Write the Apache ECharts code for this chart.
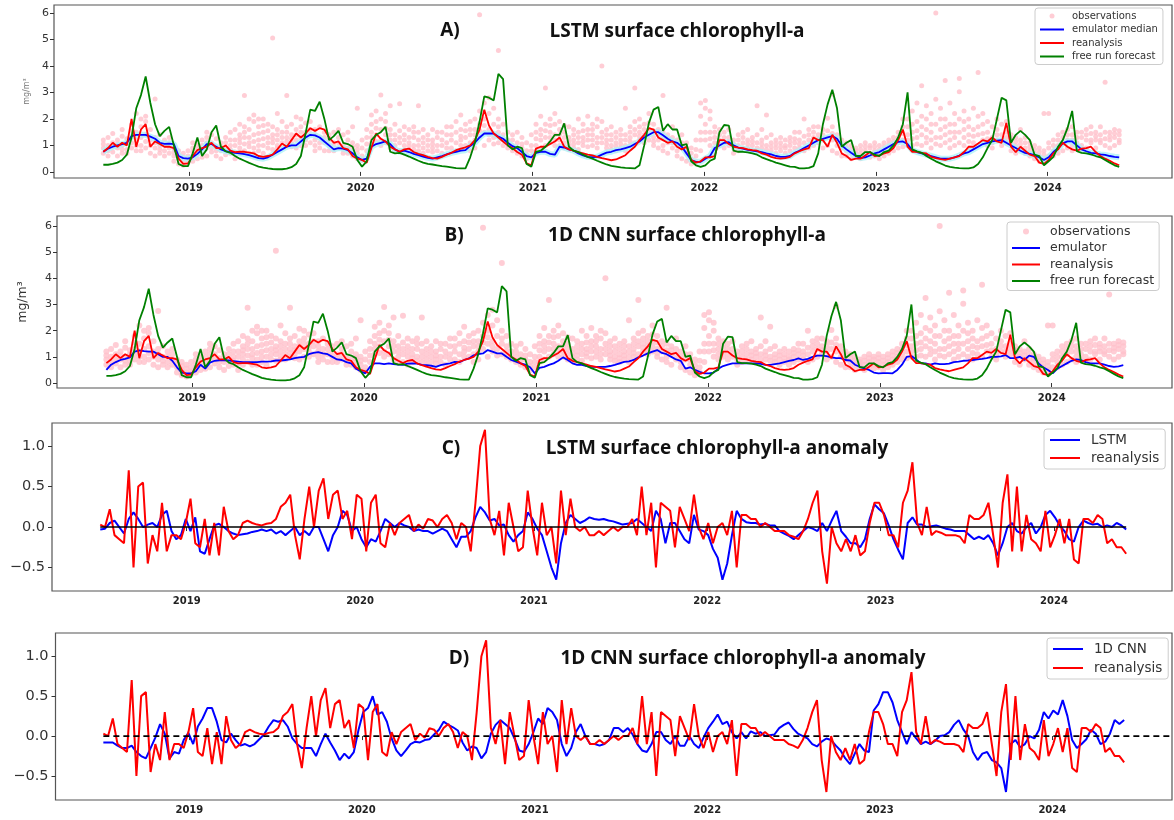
<!DOCTYPE html>
<html><head><meta charset="utf-8">
<script src="https://cdn.jsdelivr.net/npm/echarts@6/dist/echarts.min.js"></script>
<style>html,body{margin:0;padding:0;background:#fff}#c{width:1174px;height:820px}</style>
</head><body><div id="c"></div><script>
// ---- data (10-day sampling starting 2018-07-03) ----
const START_DATE = '2018-07-03';
const STEP_DAYS = 10;
const yearTicks = [2019, 2020, 2021, 2022, 2023, 2024];
const chlTicks = [0, 1, 2, 3, 4, 5, 6];
const anomTicks = [-0.5, 0, 0.5, 1.0];

const freeRun = [0.27,0.27,0.3,0.35,0.45,0.65,1.3,2.4,2.9,3.6,2.6,1.8,1.35,1.55,1.7,1.0,0.3,0.22,0.22,
0.7,1.3,0.6,0.85,1.5,1.75,0.95,0.78,0.72,
0.6,0.5,0.42,0.34,0.27,0.2,0.16,0.13,0.11,0.1,0.1,0.12,0.18,0.3,0.6,
1.45,2.35,2.3,2.65,2.0,1.2,1.35,1.55,1.1,1.05,0.95,0.45,0.2,0.4,1.2,1.4,1.5,1.7,0.76,0.7,
0.72,0.65,0.58,0.5,0.42,0.35,0.3,0.28,0.25,0.22,0.2,0.17,0.14,0.13,0.13,
0.55,1.1,1.9,2.85,2.8,2.7,3.7,3.5,1.0,0.85,0.95,0.9,0.3,0.2,
0.76,0.8,0.95,1.15,1.4,1.4,1.83,0.95,0.8,0.75,0.65,0.57,0.5,0.42,0.35,0.28,0.23,0.2,0.17,0.15,0.14,0.13,
0.25,1.0,1.85,2.35,2.45,1.55,1.8,1.6,1.6,1.0,1.05,0.4,0.25,0.19,
0.25,0.42,0.5,1.5,1.77,1.75,0.8,0.76,0.76,0.74,0.7,0.65,0.55,0.48,0.42,0.35,0.3,0.25,0.2,0.19,
0.13,0.13,0.15,0.22,0.7,1.8,2.55,3.1,2.4,0.95,1.1,1.2,0.6,0.6,0.75,0.75,0.65,0.6,0.75,0.8,
1.0,1.3,1.8,3.0,0.85,0.78,0.72,0.6,0.5,0.4,0.32,0.24,0.19,0.16,0.14,0.13,0.13,0.17,0.3,0.55,
0.9,1.2,2.0,2.8,2.7,1.1,1.4,1.55,1.4,1.2,0.65,0.6,0.25,0.4,0.57,0.95,1.2,1.65,2.3,0.78,0.72,0.7,0.66,0.6,0.55,0.45,0.35,0.25,0.19];

const reanalysis = [0.76,0.9,1.1,0.95,1.1,1.0,2.0,0.95,1.6,1.8,0.95,1.15,1.05,0.95,0.95,0.9,0.5,0.3,0.32,
0.6,0.82,0.9,0.95,1.1,0.9,0.9,1.0,0.8,0.75,0.76,0.76,0.73,0.7,0.6,0.57,0.6,0.65,0.85,1.07,0.95,1.2,1.45,1.3,1.45,1.65,1.55,1.65,1.6,1.3,1.1,1.15,0.9,0.85,0.6,0.5,0.45,0.35,0.9,1.45,1.25,1.15,0.95,0.85,
0.76,0.85,0.88,0.75,0.68,0.63,0.57,0.52,0.5,0.57,0.65,0.72,0.82,0.88,0.93,1.0,1.2,1.6,2.35,1.75,1.45,1.3,1.15,1.0,0.9,0.75,0.65,0.32,0.25,
0.88,0.95,0.95,1.05,1.15,1.3,0.95,0.85,0.8,0.75,0.7,0.65,0.62,0.57,0.52,0.48,0.44,0.47,0.55,0.63,0.8,0.95,1.2,1.4,1.65,1.6,1.3,1.2,1.1,1.15,0.95,0.85,0.95,0.45,0.35,0.4,
0.55,0.55,0.6,1.2,1.2,1.05,0.95,0.92,0.9,0.85,0.82,0.8,0.7,0.65,0.57,0.52,0.5,0.52,0.57,0.7,
0.78,0.85,0.9,1.3,1.2,1.2,0.95,1.4,1.1,0.7,0.6,0.45,0.5,0.5,0.62,0.75,0.6,0.62,0.7,0.75,
0.9,1.2,1.6,0.95,0.76,0.76,0.72,0.7,0.57,0.52,0.48,0.45,0.5,0.55,0.6,0.75,0.95,0.95,1.07,1.2,
1.15,1.3,1.15,1.1,1.85,0.95,0.75,0.95,0.8,0.65,0.6,0.35,0.3,0.45,0.7,0.85,1.1,0.95,0.85,0.8,
0.88,0.9,0.95,0.75,0.6,0.5,0.42,0.32,0.25];

const lstmMedian = [0.76,0.88,0.95,1.0,1.05,1.1,1.35,1.4,1.4,1.4,1.33,1.25,1.1,1.06,1.07,1.05,0.6,0.52,0.5,
0.55,0.68,0.85,1.05,1.05,0.95,0.85,0.78,0.75,0.72,0.7,0.67,0.63,0.58,0.52,0.5,0.55,0.65,0.75,0.85,
0.95,1.0,1.0,1.15,1.3,1.4,1.38,1.3,1.15,1.0,0.85,0.9,0.88,0.82,0.7,0.55,0.45,0.5,0.95,1.05,1.1,1.15,1.05,0.85,
0.76,0.8,0.75,0.68,0.63,0.58,0.53,0.5,0.55,0.6,0.66,0.72,0.76,0.8,0.82,0.98,1.1,1.3,1.45,1.45,
1.45,1.33,1.25,1.1,0.97,0.9,0.75,0.6,0.55,0.72,0.76,0.76,0.68,0.65,0.95,0.92,0.85,0.8,0.7,0.62,
0.57,0.56,0.57,0.65,0.73,0.76,0.82,0.85,0.9,0.95,1.05,1.15,1.3,1.4,1.5,1.5,1.38,1.25,1.15,1.1,
0.95,0.7,0.45,0.38,0.38,0.5,0.6,0.9,1.0,1.1,1.12,1.0,0.92,0.88,0.83,0.8,0.78,0.75,0.7,0.66,
0.6,0.57,0.57,0.6,0.72,
0.8,0.9,1.0,1.1,1.2,1.25,1.3,1.35,1.25,1.0,0.85,0.72,0.6,0.52,0.55,0.62,0.7,0.75,0.85,0.95,
1.05,1.13,1.15,1.05,0.82,0.75,0.7,0.65,0.6,0.55,0.5,0.5,0.5,0.55,0.62,0.7,0.75,0.85,0.95,1.05,
1.1,1.15,1.18,1.2,1.1,1.0,0.9,0.8,0.72,0.68,0.63,0.55,0.45,0.55,0.75,0.9,1.08,1.15,1.15,1.0,
0.85,0.78,0.72,0.7,0.66,0.64,0.6,0.57,0.55];

const cnnEmulator = [0.5,0.7,0.8,0.88,0.92,0.98,1.2,1.25,1.22,1.2,1.2,1.1,1.0,1.0,0.85,0.6,0.4,0.37,0.37,0.45,
0.7,0.55,0.78,0.85,0.87,0.87,0.86,0.84,0.82,0.8,0.8,0.8,0.8,0.82,0.82,0.83,0.86,0.86,0.88,0.9,
0.95,0.98,1.0,1.1,1.15,1.18,1.13,1.1,1.0,0.9,0.88,0.8,0.75,0.55,0.45,0.37,0.62,0.75,0.75,0.72,
0.75,0.72,0.7,
0.69,0.74,0.75,0.74,0.69,0.68,0.66,0.62,0.68,0.72,0.75,0.81,0.8,0.88,0.94,1.06,1.1,1.13,1.26,1.2,
1.13,1.13,1.0,0.88,0.82,0.75,0.7,0.6,0.37,0.58,0.62,0.69,0.75,0.85,0.98,0.88,0.75,
0.69,0.69,0.65,0.62,0.62,0.62,0.62,0.65,0.69,0.75,0.81,0.83,0.88,0.98,1.05,1.13,1.2,1.26,1.15,1.1,
1.0,0.9,0.85,0.55,0.6,0.5,0.43,0.37,0.37,0.4,0.55,0.65,0.7,0.75,0.75,0.75,0.75,0.75,0.75,0.73,
0.69,0.69,0.72,0.75,0.8,0.85,0.88,0.94,
0.88,0.92,1.0,1.05,1.05,1.03,0.98,0.95,0.95,0.88,0.86,0.7,0.62,0.56,0.5,0.4,0.37,0.38,0.38,0.37,
0.5,0.7,1.0,1.03,0.9,0.75,0.75,0.7,0.75,0.72,0.72,0.74,0.8,0.82,0.85,0.86,0.88,0.9,0.92,0.95,
1.0,1.0,1.02,1.07,0.95,0.95,1.0,0.88,1.05,1.0,0.75,0.6,0.5,0.37,0.55,0.65,0.75,0.85,0.9,0.88,
0.8,0.75,0.75,0.75,0.7,0.65,0.62,0.64,0.68];

const observations = [
[0.9,1.2,0.7,1.05],[1.0,1.3,0.8,0.6],[1.1,0.75,1.45,0.95],[0.9,1.2,0.6,1.05],[1.0,1.35,0.7,1.6,0.85],[0.85,1.25,1.1,0.7],[1.3,0.9,1.8,1.1,1.55],[1.5,0.8,1.2,2.2,1.0],[1.0,1.7,1.3,2.0,0.8],[1.4,0.9,1.9,2.1,1.15],
[1.2,0.7,1.6,1.0],[2.75,0.9,1.3,0.6,1.1],[1.0,0.7,1.4,0.85],[0.8,1.2,0.6,1.0],[1.1,0.7,0.9,1.3],[0.6,0.9,0.4,0.75],[0.5,0.8,0.3,0.65],[0.4,0.7,0.25,0.55],[0.45,0.8,0.6,0.35],
[0.6,0.9,0.4,1.1,0.75],[0.7,1.0,0.5,0.85],[0.8,1.2,0.55,1.0],[0.9,1.3,0.6,1.5,1.1],[1.1,0.75,1.4,0.9],[0.95,0.6,1.25,0.8],[0.8,1.1,0.5,0.95],[0.9,1.3,0.65,1.1],[0.7,1.0,1.5,0.85,1.2],[0.75,1.2,1.6,0.5,1.0],
[1.4,0.9,1.8,1.1,0.7,1.25],[2.88,1.3,0.8,1.7,1.05,1.5],[1.6,2.0,1.1,0.7,1.3,0.95],[2.15,1.4,0.9,1.9,1.15,0.7],[1.2,1.7,0.8,1.45,1.0,2.0],[1.5,1.0,2.0,0.7,1.25,1.75],[1.3,1.8,0.9,1.1,1.55],[5.05,1.4,1.1,1.7,0.85,1.25],[2.2,1.2,1.6,0.9,1.4,1.0],[1.5,1.1,1.9,1.3,0.9],
[2.88,1.3,1.7,1.0,1.5,1.15],[1.4,1.8,1.1,1.25,0.95],[1.6,1.2,2.07,0.9,1.4],[1.3,1.7,1.0,2.0,1.5],[1.5,1.2,1.85,1.0,1.35],[1.4,1.9,1.1,1.6],[1.2,1.6,1.0,0.8,1.4],[1.3,1.7,0.9,1.1],[1.1,1.5,0.8,1.3],[1.0,1.4,1.2,0.8],
[1.1,0.8,1.5,0.95],[0.9,1.3,1.6,1.1],[1.0,1.4,0.7,0.85],[0.9,1.2,1.5,0.7],[0.8,1.1,0.6,1.7,0.95],[2.4,0.7,1.0,0.5,0.85],
[0.6,0.9,1.2,0.45],[0.8,1.3,1.6,1.05],[1.5,2.15,1.1,1.8,1.3],[1.4,1.9,2.3,1.15,1.65],[2.9,1.6,1.2,1.0,2.0],[1.4,1.9,1.1,2.2,1.65],[2.5,1.2,1.6,0.9,1.4],[1.0,1.4,0.8,1.8,1.2],[2.57,1.1,0.8,1.3,1.55],[1.0,1.4,0.7,1.2,1.7],
[1.1,1.6,0.8,1.3,0.95],[1.7,1.0,1.3,0.85,1.5],[2.5,0.8,1.2,1.5,1.0],[0.9,1.3,0.7,1.1,1.6],[1.0,1.4,0.8,1.2],[0.9,1.2,1.6,0.75,1.05],[0.8,1.3,1.0,1.5],[1.0,1.5,0.7,1.2],[1.1,1.4,0.9,1.7],[1.2,1.7,0.9,1.4],
[1.1,1.5,0.8,1.9],[2.15,1.2,1.6,1.0,1.35],[1.3,1.0,1.8,1.55],[1.4,1.1,1.9,0.8,1.6],[1.6,2.0,1.2,1.4,0.9],[5.93,1.8,2.3,1.3,1.55],[2.0,1.5,2.6,1.0,1.75],[2.2,1.6,1.2,2.8,1.4],[1.8,2.4,1.3,1.05],[4.58,1.5,2.0,1.1,1.7],
[1.4,1.8,1.0,1.2],[1.2,1.5,0.9,1.05],[1.0,1.4,0.8,1.2],[1.1,0.7,1.5,0.9],[0.9,1.3,0.6,1.05],[0.5,0.8,1.1,0.65],[0.6,1.0,1.4,0.8],
[1.0,1.5,1.8,0.8,1.25],[1.2,1.6,2.1,0.9,1.4],[3.17,1.3,1.8,1.0,1.55],[1.5,2.0,1.1,1.3,1.75],[1.4,1.8,1.0,2.2,1.2],[1.2,1.6,1.9,1.0,1.4],[1.1,1.5,0.9,1.3,1.75],[1.0,1.3,1.7,1.15,0.85],
[1.2,1.6,0.9,1.4,1.05],[1.1,1.5,2.0,1.3,0.85],[1.3,1.8,1.0,1.55,1.15],[1.6,1.2,2.1,1.4,0.95],[1.4,1.0,1.8,1.2,1.6],[1.3,1.7,0.9,2.0,1.1],[4.0,1.5,1.1,1.9,1.3],[1.2,1.6,0.9,1.4,1.05],[1.0,1.4,1.7,1.2,0.85],[1.1,0.8,1.5,1.3,0.95],
[1.2,1.6,0.9,1.4,1.05],[1.0,1.4,2.4,1.2,0.8],[1.3,1.7,1.0,1.5,1.15],[3.17,1.4,1.9,1.1,1.6],[1.5,2.0,1.2,1.7,1.35],[1.4,1.8,1.1,1.6,1.25],[1.6,2.2,1.2,1.4,1.85],[1.3,1.8,1.0,1.55,1.15],[1.2,1.6,0.9,1.4],[2.88,1.0,1.5,0.8,1.25],
[1.1,1.4,0.7,1.25],[0.9,1.3,1.7,1.1],[0.8,1.2,0.6,1.0],[0.9,1.4,0.5,1.1],[0.7,1.1,0.4,0.9],[0.5,0.9,0.3,0.7],[0.6,1.2,0.4,0.85],[1.5,2.1,0.8,2.6,1.2],
[1.8,2.4,1.2,2.7,1.5],[1.5,2.0,1.0,2.3,1.25],[1.3,1.7,0.9,1.1,1.5],[1.2,1.6,1.0,1.4],[1.1,1.5,0.9,1.3],[1.0,1.3,1.6,1.15],[0.9,1.2,0.7,1.05],[1.0,1.4,0.8,1.2],[1.1,1.5,0.9,1.3],[1.2,0.9,1.6,1.05],
[1.0,1.3,0.8,1.15],[2.5,1.1,1.4,0.9],[0.9,1.2,1.6,1.05],[1.0,2.15,1.3,0.85],[0.8,1.1,1.4,0.95],[0.9,1.2,0.7,1.05],[0.8,1.1,1.3,0.95],[0.9,1.2,0.7,1.0],[1.0,1.3,0.8,1.15],[1.1,1.5,0.9,1.25],
[1.2,0.9,1.5,1.05],[2.0,1.1,0.8,1.35],[1.2,1.6,0.9,1.4],[1.3,1.7,1.0,1.5],[1.4,1.1,1.7,1.25],[1.2,1.6,0.9,1.4],[2.03,1.3,1.0,1.55],[2.93,1.2,1.7,0.8,1.45],[1.0,1.4,0.7,1.2],[0.9,1.2,0.6,1.05],
[0.8,1.1,0.6,0.95],[0.7,1.0,0.5,0.85],[0.6,0.9,0.8,0.7],[0.7,1.0,0.5,0.85],[0.8,1.1,0.6,0.95],[0.7,1.0,0.9,0.55],[0.8,0.6,1.1,0.95],
[0.7,1.0,0.5,0.85],[0.8,1.1,0.6,0.95],[0.9,1.2,0.7,1.05],[1.0,1.3,0.8,1.15],[1.1,1.5,0.9,1.3],[1.2,1.7,2.0,0.95,1.45],[1.4,2.0,1.0,1.7,1.2],[1.5,2.3,1.0,1.25,1.8],[1.3,1.9,2.6,1.05,1.55],[3.25,1.4,2.1,1.0,1.7],
[1.6,2.5,1.1,2.0,1.3],[1.8,1.2,2.2,0.9,1.5],[6.0,2.74,1.3,1.8,1.05],[2.4,1.6,1.0,2.0,1.3],[3.45,2.0,1.4,1.1,1.7],[1.8,1.2,2.6,0.9,1.5],[1.5,2.2,1.0,1.3,1.8],[3.53,3.03,1.5,1.1,2.0],[2.3,1.6,1.0,1.9,1.3],[1.4,2.0,0.9,1.15,1.7],
[1.6,2.4,1.1,1.35],[3.75,1.4,2.1,1.0,1.7],[1.8,1.2,2.2,1.45],[1.5,1.0,1.9,1.25],[1.3,1.7,0.9,1.1],[1.2,1.6,2.0,1.4],[1.4,1.0,1.8,1.2],[1.5,1.1,1.9,1.3],[1.1,1.4,0.8,1.25],[1.0,1.3,0.7,1.15],
[1.2,0.9,1.6,1.05],[0.9,1.3,0.7,1.1],[0.8,1.1,0.6,0.95],[0.7,1.0,0.5,0.85],[0.6,0.9,0.4,0.75],[0.5,0.8,2.2,0.65],
[0.9,2.2,0.6,1.1],[0.8,1.2,0.6,1.0],[1.0,1.4,0.7,1.2],[1.1,1.5,0.8,1.3],[1.2,1.6,0.9,1.4],[1.0,1.4,0.8,1.2,1.7],[1.1,1.5,0.9,1.3],[1.0,1.3,0.8,1.5],[1.2,1.6,0.9,1.4],[1.2,1.7,1.1,1.45],
[1.2,1.5,0.9,1.35],[1.7,1.1,1.4,1.2],[3.38,1.5,1.0,1.25],[1.2,1.5,0.9,1.35],[1.3,1.6,1.0,1.45],[1.1,1.4,1.2,1.55]];

const reanalysisAnom = [0.03,0.0,0.22,-0.1,-0.15,-0.2,0.7,-0.5,0.5,0.55,
-0.45,-0.1,-0.3,0.3,-0.3,-0.1,-0.1,-0.15,0.05,0.35,
-0.2,-0.25,0.1,-0.35,0.05,-0.35,0.25,-0.05,-0.15,-0.1,
0.05,0.08,0.05,0.03,0.02,0.04,0.05,0.1,0.25,0.3,
0.4,-0.1,-0.4,0.1,0.5,0.0,0.45,0.6,0.1,0.4,
0.45,0.1,0.2,-0.15,0.4,0.35,-0.3,0.3,0.4,-0.2,
-0.25,0.05,-0.1,0.05,0.1,0.15,-0.05,0.03,-0.02,0.1,
0.08,0.0,0.1,0.15,0.05,-0.15,0.05,0.0,-0.3,0.3,
1.0,1.2,0.1,-0.1,0.2,-0.35,0.3,0.0,-0.3,-0.25,
0.45,0.0,-0.35,0.3,-0.1,0.0,-0.45,0.45,-0.1,0.35,
0.0,-0.05,0.0,-0.1,-0.1,-0.05,-0.1,-0.05,0.0,-0.05,
0.0,0.0,0.1,-0.1,0.5,-0.1,0.3,-0.5,0.3,0.25,
0.2,-0.25,0.25,0.1,-0.05,0.4,0.0,-0.15,0.05,-0.2,
0.0,0.05,-0.1,0.2,-0.5,0.15,0.15,0.1,0.1,0.0,
0.05,0.0,-0.05,-0.05,-0.05,-0.1,-0.12,-0.15,-0.05,0.1,
0.3,0.45,-0.3,-0.7,0.0,-0.2,-0.3,-0.15,-0.3,-0.1,
-0.35,-0.3,0.05,0.3,0.3,0.15,-0.1,-0.1,-0.25,0.3,
0.45,0.8,0.05,-0.1,0.25,-0.1,-0.05,-0.07,-0.1,-0.1,
-0.1,-0.12,-0.2,0.15,0.1,0.1,0.15,0.3,-0.1,-0.5,
0.3,0.65,-0.3,0.5,-0.3,0.15,-0.15,-0.2,-0.3,0.2,
-0.25,-0.1,0.1,-0.2,0.1,-0.4,-0.45,0.1,0.1,0.05,
0.15,0.1,-0.2,-0.15,-0.25,-0.25,-0.33];

const lstmAnom = [-0.03,-0.02,0.05,0.08,0.0,-0.08,0.1,0.18,0.1,0.0,
0.03,0.05,0.0,0.15,0.2,-0.05,-0.15,-0.1,0.1,-0.05,
0.12,-0.3,-0.33,-0.15,0.02,0.04,0.0,-0.05,-0.08,-0.1,
-0.09,-0.08,-0.06,-0.05,-0.03,-0.05,-0.03,-0.08,-0.05,-0.1,
-0.05,0.0,-0.1,-0.05,-0.1,0.0,0.0,-0.15,-0.3,-0.1,
0.0,0.2,0.15,-0.05,0.0,-0.15,-0.25,-0.15,-0.18,-0.05,
0.1,0.05,0.0,0.05,0.02,0.0,-0.05,-0.03,-0.05,-0.05,
-0.08,-0.05,-0.02,-0.05,-0.15,-0.25,-0.12,-0.12,-0.05,0.12,
0.25,0.18,0.08,0.1,0.02,0.03,-0.1,-0.18,-0.1,-0.05,
0.18,0.1,-0.02,-0.1,-0.3,-0.5,-0.65,-0.2,0.05,0.15,
0.1,0.05,0.08,0.12,0.1,0.09,0.1,0.08,0.07,0.05,
0.03,0.04,0.05,0.1,0.05,0.0,-0.05,0.2,0.1,-0.2,
0.05,0.05,-0.05,-0.15,-0.2,0.15,-0.03,-0.05,-0.1,-0.27,
-0.38,-0.65,-0.45,-0.1,0.2,0.1,0.06,0.05,0.05,0.03,
0.04,0.02,0.02,-0.05,-0.08,-0.11,-0.15,-0.1,-0.05,0.0,
-0.02,-0.05,0.05,-0.05,0.08,0.2,-0.05,-0.12,-0.2,-0.2,
-0.25,-0.15,0.1,0.28,0.22,0.17,0.02,-0.15,-0.28,-0.4,
0.05,0.12,0.03,0.03,0.0,0.01,0.02,0.0,-0.02,-0.03,
-0.05,-0.05,-0.05,-0.1,-0.15,-0.12,-0.15,-0.1,-0.2,-0.35,
-0.2,0.0,0.05,-0.05,-0.08,0.0,0.05,-0.08,0.0,0.15,
0.2,0.12,0.02,-0.05,-0.15,-0.18,0.0,0.08,0.05,0.03,
0.04,0.0,0.02,0.0,0.05,0.02,-0.03];

const cnnAnom = [-0.08,-0.08,-0.08,-0.12,-0.15,-0.15,-0.12,-0.2,-0.25,-0.28,
-0.15,-0.02,0.15,0.03,-0.28,-0.2,-0.22,-0.05,0.04,-0.1,
0.12,0.22,0.35,0.35,0.18,-0.05,-0.08,0.03,-0.05,-0.12,
-0.1,-0.13,-0.1,-0.04,0.02,0.12,0.2,0.18,0.2,0.12,
-0.03,-0.1,-0.15,-0.15,-0.15,-0.25,-0.1,0.03,-0.08,-0.18,
-0.3,-0.22,-0.28,-0.2,0.08,0.3,0.35,0.5,0.27,0.3,
0.18,-0.03,-0.18,-0.25,-0.18,-0.1,-0.07,-0.08,-0.05,-0.04,
0.02,0.08,0.18,0.14,0.11,0.07,-0.08,-0.18,-0.13,-0.15,
-0.28,-0.2,0.03,0.14,0.2,0.15,0.1,-0.03,-0.18,-0.2,
-0.1,0.05,0.22,0.15,0.35,0.3,0.2,-0.1,-0.25,-0.15,
0.05,0.15,0.0,-0.1,-0.1,-0.12,-0.1,-0.05,0.1,0.1,
0.05,0.1,0.02,-0.1,-0.18,-0.2,-0.1,0.05,0.05,-0.05,
-0.1,0.0,-0.12,-0.12,0.0,-0.1,-0.15,-0.02,0.1,0.18,
0.27,0.15,0.18,0.05,-0.03,0.05,-0.03,0.06,0.03,0.05,
0.0,0.01,0.02,0.1,0.14,0.17,0.09,0.03,0.0,-0.03,
-0.1,-0.13,-0.07,-0.03,-0.05,-0.12,-0.18,-0.28,-0.35,-0.22,
-0.1,-0.18,-0.2,0.32,0.4,0.55,0.55,0.42,0.2,0.05,
-0.1,0.05,-0.03,-0.1,-0.07,-0.1,-0.06,0.0,0.01,0.05,
0.14,0.2,0.08,0.0,-0.2,-0.3,-0.22,-0.2,-0.3,-0.33,
-0.4,-0.7,-0.1,-0.05,-0.14,-0.1,0.0,-0.03,0.08,0.3,
0.22,0.32,0.27,0.45,0.25,-0.05,-0.15,-0.1,-0.04,0.08,
0.03,-0.1,-0.07,0.03,0.2,0.15,0.2];

// ---- build ----
const t0 = Date.parse(START_DATE + 'T00:00:00Z');
const dates = reanalysis.map((_, i) => t0 + i * STEP_DAYS * 86400000);
function dec(y) { const yi = Math.floor(y); const a = Date.UTC(yi, 0, 1), b = Date.UTC(yi + 1, 0, 1); return a + (y - yi) * (b - a); }
const pair = arr => arr.map((v, i) => [dates[i], v]);
const obsPts = [];
observations.forEach((vals, i) => vals.forEach(v => obsPts.push([dates[i], v])));
const yearVals = yearTicks.map(y => Date.UTC(y, 0, 1));

const grids = [
  { left: 54, top: 5, width: 1118, height: 173 },
  { left: 57, top: 216, width: 1115, height: 172 },
  { left: 52, top: 423, width: 1120, height: 168 },
  { left: 55.5, top: 633, width: 1116.5, height: 167 }
];
const xr = [[2018.214, 2024.722], [2018.214, 2024.698], [2018.223, 2024.679], [2018.224, 2024.692]];
const yr = [[-0.23, 6.3], [-0.19, 6.38], [-0.79, 1.285], [-0.8, 1.29]];
const FONT = 'DejaVu Sans';

const xAxes = grids.map((g, k) => ({
  type: 'value', gridIndex: k, min: dec(xr[k][0]), max: dec(xr[k][1]), scale: true,
  axisLine: { show: false }, splitLine: { show: false },
  axisTick: { show: true, customValues: yearVals, length: 4, lineStyle: { color: '#333' } },
  axisLabel: { customValues: yearVals, formatter: v => String(new Date(v).getUTCFullYear()),
    fontFamily: FONT, fontWeight: 'bold', fontSize: 10, color: '#222', margin: 5 }
}));
const fmtA = v => (v < 0 ? '\u2212' : '') + Math.abs(v).toFixed(1);
const yAxes = grids.map((g, k) => {
  const chl = k < 2;
  return {
    type: 'value', gridIndex: k, min: yr[k][0], max: yr[k][1],
    axisLine: { show: false }, splitLine: { show: false },
    axisTick: { show: true, customValues: chl ? chlTicks : anomTicks, length: 4, lineStyle: { color: '#333' } },
    axisLabel: { customValues: chl ? chlTicks : anomTicks, formatter: chl ? (v => String(Math.round(v))) : fmtA,
      fontFamily: FONT, fontSize: chl ? 11 : 14.5, color: '#333', margin: chl ? 5 : 7 },
    name: k === 0 ? 'mg/m\u00b3' : (k === 1 ? 'mg/m\u00b3' : ''),
    nameLocation: 'middle', nameRotate: 90, nameGap: k === 0 ? 22 : 28,
    nameTextStyle: { fontFamily: FONT, fontSize: k === 0 ? 8 : 12.5, color: k === 0 ? '#777' : '#333' }
  };
});

const line = (name, data, color, k, w, extra) => Object.assign({
  name, type: 'line', xAxisIndex: k, yAxisIndex: k, data, symbol: 'none', silent: true,
  lineStyle: { color, width: w }, itemStyle: { color }, animation: false
}, extra || {});

const series = [
  { name: 'observations', type: 'scatter', xAxisIndex: 0, yAxisIndex: 0, data: obsPts, symbolSize: 5,
    itemStyle: { color: '#ffc0cb' }, silent: true, animation: false },
  line('_band', pair(lstmMedian), '#aef2f6', 0, 6, { lineStyle: { color: '#aef2f6', width: 6, opacity: 0.8 } }),
  line('emulator median', pair(lstmMedian), '#0000ff', 0, 1.8),
  line('reanalysis', pair(reanalysis), '#ff0000', 0, 1.8),
  line('free run forecast', pair(freeRun), '#008000', 0, 1.8),
  { name: 'observations', type: 'scatter', xAxisIndex: 1, yAxisIndex: 1, data: obsPts, symbolSize: 6,
    itemStyle: { color: '#ffc0cb' }, silent: true, animation: false },
  line('emulator', pair(cnnEmulator), '#0000ff', 1, 1.8),
  line('reanalysis', pair(reanalysis), '#ff0000', 1, 1.8),
  line('free run forecast', pair(freeRun), '#008000', 1, 1.8),
  line('LSTM', pair(lstmAnom), '#0000ff', 2, 2),
  line('reanalysis', pair(reanalysisAnom), '#ff0000', 2, 2),
  line('_zero', [[dates[0], 0], [dates[dates.length - 1], 0]], '#000000', 2, 1.6),
  line('1D CNN', pair(cnnAnom), '#0000ff', 3, 2),
  line('reanalysis', pair(reanalysisAnom), '#ff0000', 3, 2),
  line('_zero2', [[dates[0], 0], [dec(xr[3][1]), 0]], '#000000', 3, 1.6, { lineStyle: { color: '#000', width: 1.6, type: [6, 4] } })
];

const legBase = {
  orient: 'vertical', selectedMode: false, borderColor: '#cccccc', borderWidth: 1, borderRadius: 3,
  backgroundColor: 'rgba(255,255,255,0.85)'
};
const lineIcon = w => 'path://M0,0H' + w + 'V2H0Z';
const legItems = (names, w) => names.map(n => n === 'observations' ? { name: n, icon: 'circle' } : { name: n, icon: lineIcon(w) });
const legend = [
  Object.assign({}, legBase, { data: legItems(['observations', 'emulator median', 'reanalysis', 'free run forecast'], 24),
    left: 1035, top: 8, itemWidth: 24, itemHeight: 5, itemGap: 3.5, padding: [3, 5, 3, 5],
    textStyle: { fontFamily: FONT, fontSize: 10, color: '#333', padding: [0, 0, 0, 3] } }),
  Object.assign({}, legBase, { data: legItems(['observations', 'emulator', 'reanalysis', 'free run forecast'], 28),
    left: 1007, top: 222, itemWidth: 28, itemHeight: 6, itemGap: 3.5, padding: [3, 5, 3, 5],
    textStyle: { fontFamily: FONT, fontSize: 12.5, color: '#333', padding: [0, 0, 0, 5] } }),
  Object.assign({}, legBase, { data: legItems(['LSTM', 'reanalysis'], 30),
    left: 1044, top: 429, itemWidth: 30, itemHeight: 6, itemGap: 4, padding: [4, 6, 4, 6],
    textStyle: { fontFamily: FONT, fontSize: 13.5, color: '#333', padding: [0, 0, 0, 6] } }),
  Object.assign({}, legBase, { data: legItems(['1D CNN', 'reanalysis'], 30),
    left: 1047, top: 638, itemWidth: 30, itemHeight: 6, itemGap: 5, padding: [4, 6, 4, 6],
    textStyle: { fontFamily: FONT, fontSize: 13.5, color: '#333', padding: [0, 0, 0, 6] } })
];

const TF = 'Open Sans';
const txt = (text, x, y, size) => ({ type: 'text', x, y, silent: true,
  style: { text, fill: '#111', font: 'bold ' + size + 'px "' + TF + '"', align: 'center', verticalAlign: 'middle' } });
const graphic = [
  txt('A)', 450, 31, 19), txt('LSTM surface chlorophyll-a', 677, 32, 19),
  txt('B)', 454, 236, 19), txt('1D CNN surface chlorophyll-a', 687, 236, 19),
  txt('C)', 451, 449, 19), txt('LSTM surface chlorophyll-a anomaly', 717, 449, 19),
  txt('D)', 459, 659, 19), txt('1D CNN surface chlorophyll-a anomaly', 743, 659, 19)
];
const lens = [freeRun, reanalysis, lstmMedian, cnnEmulator, observations, reanalysisAnom, lstmAnom, cnnAnom].map(a => a.length);
if (lens.some(l => l !== 217)) graphic.push({ type: 'text', x: 300, y: 400, style: { text: 'LEN ' + lens.join(','), fill: '#f0f', font: '20px sans-serif' } });

const chart = echarts.init(document.getElementById('c'), null, { renderer: 'canvas' });
chart.setOption({
  animation: false, backgroundColor: '#ffffff',
  grid: grids.map(g => Object.assign({ show: true, borderColor: '#555', borderWidth: 1.2, backgroundColor: 'transparent', containLabel: false }, g)),
  xAxis: xAxes, yAxis: yAxes, series, legend, graphic
});
</script></body></html>
